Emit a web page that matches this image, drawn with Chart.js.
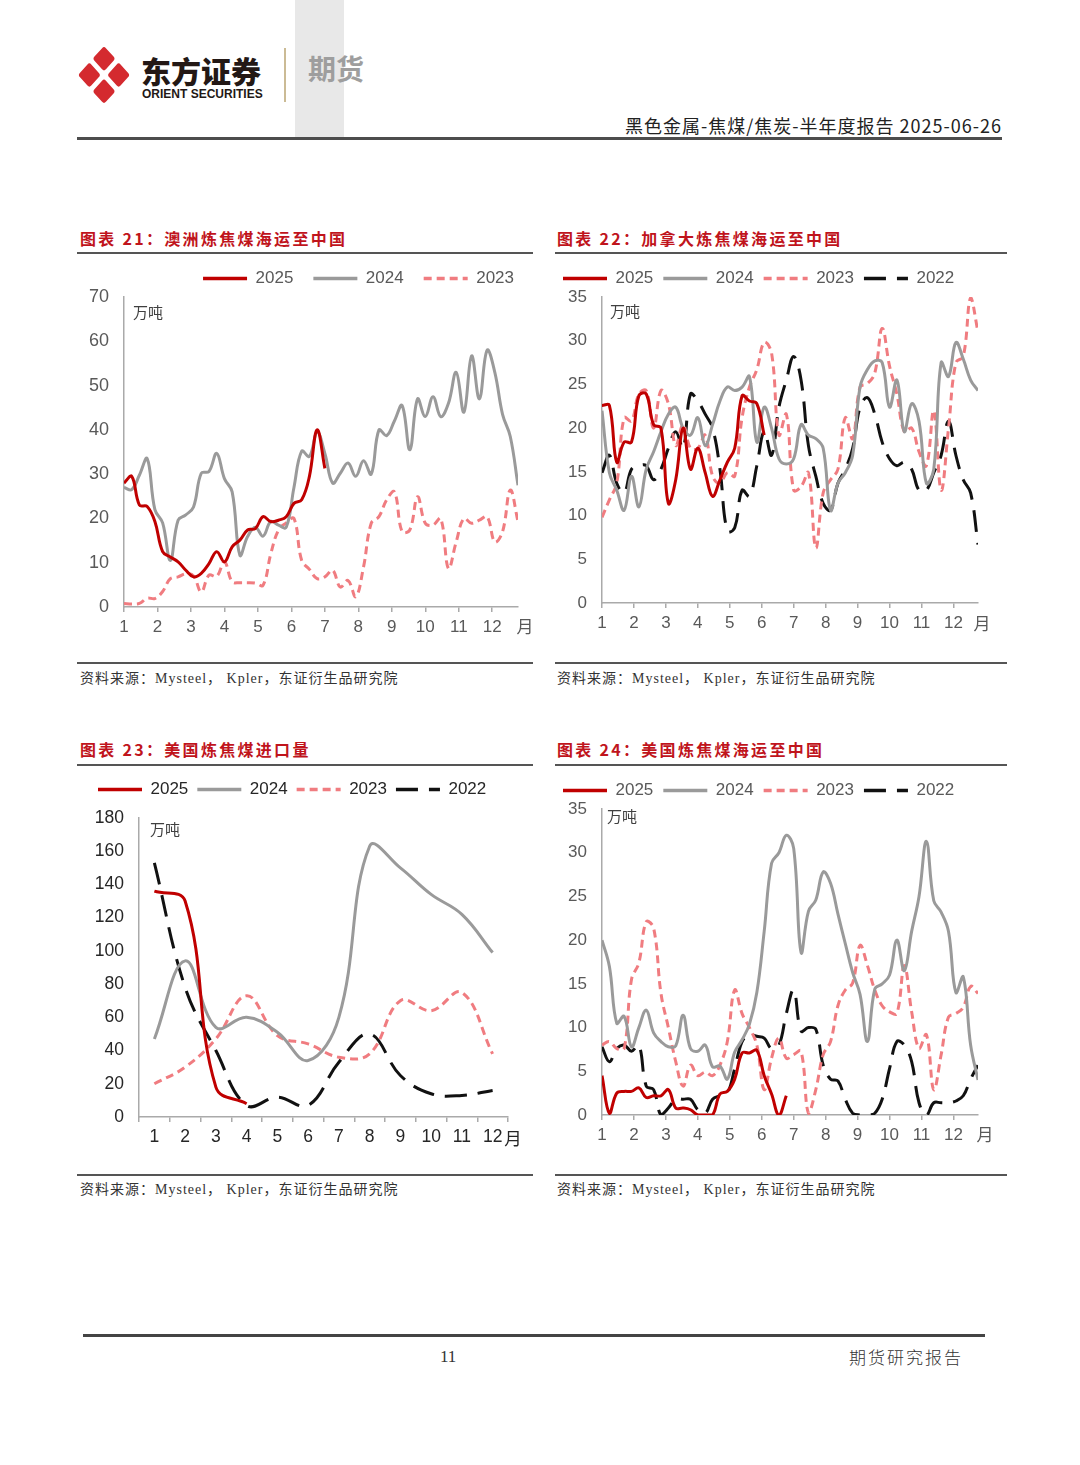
<!DOCTYPE html>
<html lang="zh-CN">
<head>
<meta charset="utf-8">
<title>炼焦煤海运</title>
<script src="https://cdn.jsdelivr.net/npm/chart.js@4.4.1/dist/chart.umd.min.js"></script>
<style>
  html, body { margin: 0; padding: 0; background: #fff; }
  body { position: relative; width: 1080px; height: 1465px; overflow: hidden; font-family: "Noto Sans CJK SC", sans-serif; color: #222; }
  .abs { position: absolute; white-space: nowrap; }
  .rule { position: absolute; background: #555; }
  .cap { position: absolute; font-size: 16px; line-height: 20px; font-weight: 700; color: #c0141c; letter-spacing: 2.3px; white-space: nowrap; }
  .src { position: absolute; font-family: "Liberation Serif", "Noto Sans CJK SC", serif; font-size: 14px; line-height: 18px; color: #333; letter-spacing: 1px; white-space: nowrap; }
  canvas { position: absolute; }
</style>
</head>
<body>
<!-- header -->
<div class="abs" style="left:295px;top:0;width:49px;height:137px;background:#e8e8e8"></div>
<svg class="abs" style="left:76px;top:45px" width="56" height="60" viewBox="0 0 56 60">
  <g transform="translate(28 30) scale(0.9 1) rotate(45)" fill="#d42a2f">
    <rect x="-20.5" y="-20.5" width="18" height="18" rx="3"/>
    <rect x="2.5" y="-20.5" width="18" height="18" rx="3"/>
    <rect x="-20.5" y="2.5" width="18" height="18" rx="3"/>
    <rect x="2.5" y="2.5" width="18" height="18" rx="3"/>
  </g>
</svg>
<div class="abs" style="left:141px;top:51px;font-size:30px;line-height:38px;font-weight:900;color:#231815">东方证券</div>
<div class="abs" style="left:142px;top:87px;font-family:'Liberation Sans',Arial,sans-serif;font-size:12px;line-height:15px;font-weight:700;color:#231815">ORIENT SECURITIES</div>
<div class="abs" style="left:284px;top:48px;width:2px;height:54px;background:#cbbb95"></div>
<div class="abs" style="left:308px;top:51px;font-size:28px;line-height:34px;font-weight:700;color:#9e9e9e">期货</div>
<div class="abs" style="right:78px;top:114px;font-size:18px;line-height:22px;letter-spacing:1px;color:#222">黑色金属-焦煤/焦炭-半年度报告 2025-06-26</div>
<div class="rule" style="left:77px;top:137px;width:925px;height:3px;background:#4d4d4d"></div>

<!-- captions -->
<div class="cap" style="left:80px;top:228px">图表 21：澳洲炼焦煤海运至中国</div>
<div class="rule" style="left:77px;top:252px;width:456px;height:1.5px"></div>
<div class="cap" style="left:557px;top:228px">图表 22：加拿大炼焦煤海运至中国</div>
<div class="rule" style="left:555px;top:252px;width:452px;height:1.5px"></div>
<div class="cap" style="left:80px;top:739px">图表 23：美国炼焦煤进口量</div>
<div class="rule" style="left:77px;top:764px;width:456px;height:1.5px"></div>
<div class="cap" style="left:557px;top:739px">图表 24：美国炼焦煤海运至中国</div>
<div class="rule" style="left:555px;top:764px;width:452px;height:1.5px"></div>

<canvas id="c21" width="457" height="397" style="left:77px;top:250px"></canvas>
<canvas id="c22" width="442" height="383" style="left:553px;top:260px"></canvas>
<canvas id="c23" width="435" height="385" style="left:89px;top:772px"></canvas>
<canvas id="c24" width="442" height="383" style="left:553px;top:772px"></canvas>

<!-- sources -->
<div class="rule" style="left:77px;top:662px;width:456px;height:2px"></div>
<div class="src" style="left:80px;top:670px">资料来源：Mysteel，&nbsp;Kpler，东证衍生品研究院</div>
<div class="rule" style="left:555px;top:662px;width:452px;height:2px"></div>
<div class="src" style="left:557px;top:670px">资料来源：Mysteel，&nbsp;Kpler，东证衍生品研究院</div>
<div class="rule" style="left:77px;top:1174px;width:456px;height:2px"></div>
<div class="src" style="left:80px;top:1181px">资料来源：Mysteel，&nbsp;Kpler，东证衍生品研究院</div>
<div class="rule" style="left:555px;top:1174px;width:452px;height:2px"></div>
<div class="src" style="left:557px;top:1181px">资料来源：Mysteel，&nbsp;Kpler，东证衍生品研究院</div>

<!-- footer -->
<div class="rule" style="left:83px;top:1334px;width:902px;height:3px;background:#444"></div>
<div class="abs" style="left:440px;top:1347px;font-family:'Liberation Serif',serif;font-size:17px;line-height:20px;color:#333">11</div>
<div class="abs" style="left:849px;top:1347px;font-size:17px;line-height:20px;letter-spacing:2px;font-weight:300;color:#333">期货研究报告</div>

<script>
Chart.defaults.font.family = '"Liberation Sans", Arial, sans-serif';
Chart.defaults.animation = false;

const monthLabels = ['1', '2', '3', '4', '5', '6', '7', '8', '9', '10', '11', '12'];

// 图表21 澳洲炼焦煤海运至中国（周度，万吨）
const au2025 = [28, 29.5, 23, 22.7, 19.3, 12.5, 11.3, 10.2, 8.3, 6.8, 7.6, 9.8, 12.5, 10.2, 13.6, 15.1, 17.4, 17.7,
  20.4, 19.3, 19.6, 20.4, 23.4, 24.2, 29.5, 40, 31.3];
const au2024 = [27, 26.5, 29.8, 33.5, 22, 19, 10.5, 19.6, 20.8, 22.6, 30.2, 30.6, 34.7, 29, 26, 11.7, 15.9, 18,
  16, 19.3, 18.5, 18, 27, 35.2, 34, 39.5, 34.7, 28, 30.2, 32.5, 29.5, 33, 30, 40, 38.7, 42,
  45.5, 35.5, 47, 43, 47.5, 43, 46, 53, 44, 56.7, 47, 58, 53, 43.5, 38.5, 27.5];
const au2023 = [0.8, 0.7, 0.8, 2, 1.9, 3.5, 6.4, 6.8, 7.5, 7, 3.4, 7.2, 6.9, 10.2, 5.7, 5.5, 5.5, 5.4,
  4.9, 12, 17.4, 19, 20, 10.5, 8.5, 6.4, 6.8, 8.3, 4.5, 6, 2.3, 9, 18.9, 20.4, 24.2, 26,
  17, 17.4, 24.9, 18.9, 18.5, 20, 8.7, 14.7, 20, 18.9, 19.6, 20.4, 14.7, 17, 26.4, 19.3];

// 图表22 加拿大炼焦煤海运至中国
const ca2025 = [22.6, 22.6, 16.1, 18.4, 18.4, 23.7, 23.9, 20.4, 20, 11.4, 14.1, 20, 15.3, 17.7, 14.9, 12.2, 14.1,
  16.1, 17.7, 23.7, 23.1, 22.8, 19.2];
const ca2024 = [22, 14.9, 12.9, 10.6, 14.5, 11, 15.3, 17.3, 19.6, 21.6, 22.4, 20, 19.2, 21.2, 18, 20.4, 23.1, 24.7,
  24.3, 24.7, 25.9, 18.4, 22.4, 20, 16.5, 15.9, 16.5, 20.4, 19.2, 18.8, 17.7, 10.6, 13.7, 14.9, 16.9, 24.7,
  26.7, 27.7, 27.5, 22.4, 25.5, 19.6, 22.8, 20.8, 13.7, 15.3, 27.5, 25.9, 29.8, 27.9, 25.5, 24.3];
const ca2023 = [9.8, 11.8, 13.7, 21.2, 20.8, 23.9, 24.3, 20, 24.3, 22.8, 18, 20.4, 17.7, 17.7, 19.2, 14.5, 13.7, 14.9,
  14.5, 21.2, 24.7, 26.7, 29.8, 28.6, 19.2, 21.6, 12.9, 13.3, 14.9, 6.3, 12.6, 14.1, 15.3, 21.2, 18.8, 24.7,
  25.1, 26.3, 31.4, 27.1, 23.9, 19.6, 20, 17.3, 15.7, 22, 12.9, 20, 27.5, 28.2, 34.9, 31];
const ca2022 = [14.9, 16.9, 13.7, 12.6, 15.3, 15.7, 15.7, 14.1, 15.3, 17.7, 19.6, 17.7, 23.9, 23.1, 21.6, 20, 15.3, 8.2,
  8.6, 12.9, 12.2, 15.7, 19.6, 16.9, 22.4, 25.5, 28.2, 25.5, 18, 14.5, 11.4, 10.6, 13.7, 15.3, 17.7, 22.4,
  23.5, 21.6, 18.4, 16.5, 15.7, 16.1, 15.3, 12.9, 12.9, 14.9, 16.9, 20.8, 16.9, 14.1, 12.6, 6.7];

// 图表23 美国炼焦煤进口量（月度）
const usImp2025 = [136, 130, 18, 8];
const usImp2024 = [47, 94, 54, 60, 51, 34, 60, 163, 150, 134, 122, 99];
const usImp2023 = [20, 30, 47, 73, 49, 44, 36, 38, 70, 64, 75, 38];
const usImp2022 = [153, 78, 40, 7, 12, 7, 33, 50, 25, 14, 13, 16];

// 图表24 美国炼焦煤海运至中国（周度）
const usCn2025 = [4.5, 0.2, 2.5, 2.7, 2.7, 3.1, 2, 2.2, 2.2, 2.9, 0.8, 0.8, 0.6, 0, 0, 0, 2.4, 2.7, 4.1, 7.1, 7.1,
  7.4, 4.5, 2.4, 0, 2.2];
const usCn2024 = [20, 17, 10.5, 11.3, 7.8, 10, 12, 9.4, 8.4, 7.8, 7.9, 11.4, 7.6, 7.3, 8, 5.5, 5.6, 4.1, 7.2, 8.6,
  10.4, 14, 21, 28.8, 30, 32, 30.5, 18.6, 23.3, 24.6, 27.8, 26.5, 23, 19.6, 16.3, 13.8, 8.4, 14.4, 15, 16,
  20, 16.5, 21, 25, 31.3, 24.5, 23.2, 21, 14, 15.8, 8, 4];
const usCn2023 = [8, 8.4, 7.6, 7.6, 15.5, 17.4, 22.1, 21.4, 13.9, 10, 6.1, 3.3, 5.7, 4.5, 4.9, 4.5, 5.7, 8.4, 14.3,
  11.6, 10, 8, 2.9, 6.5, 8.8, 6.5, 6.9, 7.3, 0.2, 2.9, 6.9, 8.4, 12.5, 14.3, 15.1, 19.4, 17.1, 14.3, 12.5,
  11.8, 11.6, 17.1, 11.8, 7.6, 9.2, 2.9, 6.9, 11.2, 11.6, 12.3, 14.7, 13.9];
const usCn2022 = [7.8, 6.1, 7.6, 8, 7.3, 8, 3.3, 2.9, 0, 0.8, 1.8, 1.8, 1.8, 0.6, 0.2, 1.8, 2.2, 2.5, 5.3, 8.4, 9.2,
  9, 8.8, 7.6, 8, 11.6, 14.3, 9.6, 10, 9.8, 5.7, 4.1, 3.9, 1.8, 0.2, 0, 0, 0.2, 1.8, 5.3, 8.4, 8, 6.1, 1.4,
  0, 1.4, 1.4, 1.4, 1.6, 2.2, 4.1, 5.7];

const yearStyle = {
  '2025': { color: '#c00000', dash: [] },
  '2024': { color: '#9a9a9a', dash: [] },
  '2023': { color: '#f07c80', dash: [8, 5] },
  '2022': { color: '#111111', dash: [22, 11] }
};

const weeksPerYear = 52;
const weekToMonth = i => 1 + i * 12 / weeksPerYear;

function seriesSet(name, values, weekly) {
  const st = yearStyle[name];
  return {
    label: name,
    data: weekly ? values.map((v, i) => ({ x: weekToMonth(i), y: v })) : values,
    xAxisID: 'x',
    yAxisID: 'y',
    borderColor: st.color,
    backgroundColor: st.color,
    borderDash: st.dash,
    borderWidth: 3,
    pointRadius: 0,
    pointRotation: 180,
    tension: 0.4,
    fill: false
  };
}

// legend samples keep each series' dash pattern
function legendItems(chart) {
  const items = Chart.defaults.plugins.legend.labels.generateLabels(chart);
  return items.map(it => {
    const ds = chart.data.datasets[it.datasetIndex];
    it.lineDash = ds.borderDash;
    it.lineDashOffset = 0;
    it.strokeStyle = ds.borderColor;
    it.lineWidth = 3.5;
    it.rotation = 180;
    return it;
  });
}

// 万吨 / 月 labels around the plot area
function axisText(o) {
  return {
    id: 'axisText',
    afterDraw(chart) {
      const { ctx, chartArea } = chart;
      ctx.save();
      ctx.fillStyle = '#404040';
      ctx.textBaseline = 'middle';
      ctx.font = '15px "Noto Sans CJK SC"';
      ctx.textAlign = 'left';
      ctx.fillText('万吨', chartArea.left + o.unit[0], chartArea.top + o.unit[1]);
      ctx.font = o.fontSize + 'px "Noto Sans CJK SC"';
      ctx.fillStyle = o.tickColor;
      ctx.textAlign = 'center';
      ctx.fillText('月', chartArea.right + o.month[0], chartArea.bottom + o.month[1]);
      ctx.restore();
    }
  };
}

function drawChart(id, o) {
  const axisColor = '#aaaaaa';
  const tickFont = { size: o.fontSize };
  let x;
  if (o.weekly) {
    x = {
      type: 'linear', min: 1, max: weekToMonth(weeksPerYear - 1),
      afterBuildTicks: s => { s.ticks = monthLabels.map((m, i) => ({ value: i + 1 })); },
      ticks: { callback: (v, i) => monthLabels[i], autoSkip: false, maxRotation: 0, padding: 5, font: tickFont, color: o.tickColor }
    };
  } else {
    x = {
      type: 'category', labels: monthLabels, offset: true,
      ticks: { autoSkip: false, maxRotation: 0, padding: 5, font: tickFont, color: o.tickColor }
    };
  }
  x.grid = { display: true, offset: !o.weekly, drawOnChartArea: false, drawTicks: true, tickLength: 5, color: axisColor, lineWidth: 1.5 };
  x.border = { display: true, color: axisColor, width: 1.5 };
  x.afterFit = s => { s.height = 40; };

  const scales = {
    x: x,
    y: {
      type: 'linear', min: 0, max: o.yMax,
      ticks: { stepSize: o.yStep, padding: 15, font: { size: o.yFontSize || o.fontSize }, color: o.tickColor },
      grid: { display: false, drawTicks: false },
      border: { display: true, color: axisColor, width: 1.5 },
      afterFit: s => { s.width = o.yWidth; }
    }
  };
  const spacer = { type: 'linear', display: true, grid: { display: false, drawTicks: false }, ticks: { display: false }, border: { display: false } };
  if (o.gapTop) {
    scales.gapTop = Object.assign({}, spacer, { position: 'top', afterFit: s => { s.height = o.gapTop; } });
  }
  if (o.gapRight) {
    scales.gapRight = Object.assign({}, spacer, { position: 'right', afterFit: s => { s.width = o.gapRight; } });
  }

  const legend = {
    display: true, position: 'top', align: o.legendAlign,
    labels: {
      usePointStyle: true, pointStyle: 'line', pointStyleWidth: 44, padding: o.legendPad,
      font: { size: 17 }, color: o.tickColor, generateLabels: legendItems
    }
  };
  if (o.legendMaxH) legend.maxHeight = o.legendMaxH;

  return new Chart(document.getElementById(id).getContext('2d'), {
    type: 'line',
    data: { datasets: o.sets },
    options: {
      responsive: false,
      animation: false,
      layout: { padding: { right: o.padRight || 0 } },
      plugins: { legend: legend, tooltip: { enabled: false } },
      scales: scales
    },
    plugins: [axisText(o)]
  });
}

drawChart('c21', {
  sets: [seriesSet('2025', au2025, true), seriesSet('2024', au2024, true), seriesSet('2023', au2023, true)],
  weekly: true, yMax: 70, yStep: 10, yWidth: 47, fontSize: 17, yFontSize: 18, tickColor: '#595959',
  legendAlign: 'end', legendPad: 20, legendMaxH: 47, gapRight: 16,
  unit: [9, 15], month: [7, 20]
});

drawChart('c22', {
  sets: [seriesSet('2025', ca2025, true), seriesSet('2024', ca2024, true), seriesSet('2023', ca2023, true), seriesSet('2022', ca2022, true)],
  weekly: true, yMax: 35, yStep: 5, yWidth: 49, fontSize: 17, tickColor: '#595959',
  legendAlign: 'start', legendPad: 10, legendMaxH: 46, padRight: 17,
  unit: [8, 14], month: [4, 21]
});

drawChart('c23', {
  sets: [seriesSet('2025', usImp2025, false), seriesSet('2024', usImp2024, false), seriesSet('2023', usImp2023, false), seriesSet('2022', usImp2022, false)],
  weekly: false, yMax: 180, yStep: 20, yWidth: 50, fontSize: 17.5, tickColor: '#262626',
  legendAlign: 'start', legendPad: 9, gapTop: 10, padRight: 16,
  unit: [11, 11], month: [5, 21]
});

drawChart('c24', {
  sets: [seriesSet('2025', usCn2025, true), seriesSet('2024', usCn2024, true), seriesSet('2023', usCn2023, true), seriesSet('2022', usCn2022, true)],
  weekly: true, yMax: 35, yStep: 5, yWidth: 49, fontSize: 17, tickColor: '#595959',
  legendAlign: 'start', legendPad: 10, legendMaxH: 45, padRight: 17,
  unit: [5, 7], month: [7, 20]
});
</script>
</body>
</html>
